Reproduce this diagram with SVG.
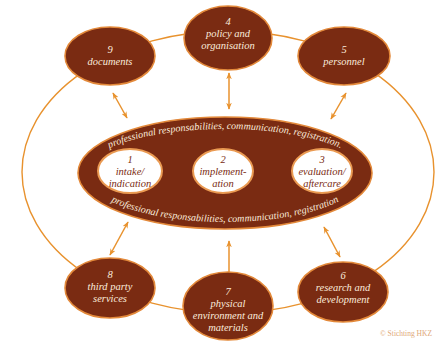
<svg xmlns="http://www.w3.org/2000/svg" width="436" height="343" viewBox="0 0 436 343">
<style>
.node{fill:#7A2B12;stroke:#E3893A;stroke-width:1.6}
.inner{fill:#FFFFFF;stroke:#EA9A52;stroke-width:2}
.lbl{font-family:"Liberation Serif",serif;font-style:italic;font-size:10.5px;fill:#FBEBDD;text-anchor:middle}
.ilbl{font-family:"Liberation Serif",serif;font-style:italic;font-size:10.5px;fill:#7A2B12;text-anchor:middle}
.arc{font-family:"Liberation Serif",serif;font-style:italic;font-size:10px;fill:#FBEBDD}
.conn{fill:none;stroke:#E8922E;stroke-width:1.5}
.ring{fill:none;stroke:#E8922E;stroke-width:1.4}
</style>
<defs>
<marker id="ah" viewBox="0 0 10 10" refX="9" refY="5" markerWidth="7" markerHeight="7" orient="auto-start-reverse" markerUnits="userSpaceOnUse">
<path d="M0,1 L10,5 L0,9 L3,5 Z" fill="#E8922E"/>
</marker>
<path id="topArc" d="M 85 173 A 140 44 0 0 1 365 173"/>
<path id="botArc" d="M 85 173 A 140 49 0 0 0 365 173"/>
</defs>
<rect width="436" height="343" fill="#FFFFFF"/>
<g id="connectors">
<ellipse class="ring" cx="228" cy="172" rx="206" ry="141"/>
<line class="conn" x1="113" y1="93" x2="127" y2="118" marker-start="url(#ah)" marker-end="url(#ah)"/>
<line class="conn" x1="229" y1="73" x2="229" y2="109" marker-start="url(#ah)" marker-end="url(#ah)"/>
<line class="conn" x1="346" y1="93" x2="331" y2="119" marker-start="url(#ah)" marker-end="url(#ah)"/>
<line class="conn" x1="128" y1="222" x2="110" y2="255" marker-start="url(#ah)" marker-end="url(#ah)"/>
<line class="conn" x1="229" y1="241" x2="229" y2="278" marker-start="url(#ah)" marker-end="url(#ah)"/>
<line class="conn" x1="324" y1="227" x2="340" y2="257" marker-start="url(#ah)" marker-end="url(#ah)"/>
</g>
<g id="center">
<ellipse class="node" cx="225" cy="173" rx="147" ry="56"/>
<text class="arc"><textPath href="#topArc" startOffset="50%" text-anchor="middle">professional responsabilities, communication, registration.</textPath></text>
<text class="arc"><textPath href="#botArc" startOffset="50%" text-anchor="middle" dy="0">professional responsabilities, communication, registration</textPath></text>
</g>
<g id="n1">
<ellipse class="inner" cx="130" cy="171" rx="32" ry="22"/>
<text class="ilbl" x="130" y="163">1</text>
<text class="ilbl" x="130" y="175">intake/</text>
<text class="ilbl" x="130" y="187">indication</text>
</g>
<g id="n2">
<ellipse class="inner" cx="223" cy="171" rx="30" ry="22"/>
<text class="ilbl" x="223" y="163">2</text>
<text class="ilbl" x="223" y="175">implement-</text>
<text class="ilbl" x="223" y="187">ation</text>
</g>
<g id="n3">
<ellipse class="inner" cx="322" cy="171" rx="30" ry="22"/>
<text class="ilbl" x="322" y="163">3</text>
<text class="ilbl" x="322" y="175">evaluation/</text>
<text class="ilbl" x="322" y="187">aftercare</text>
</g>
<g id="n4">
<ellipse class="node" cx="228" cy="38" rx="44" ry="32"/>
<text class="lbl" x="228" y="25">4</text>
<text class="lbl" x="228" y="37">policy and</text>
<text class="lbl" x="228" y="49">organisation</text>
</g>
<g id="n5">
<ellipse class="node" cx="344" cy="56" rx="46" ry="29"/>
<text class="lbl" x="344" y="53">5</text>
<text class="lbl" x="344" y="65">personnel</text>
</g>
<g id="n6">
<ellipse class="node" cx="343" cy="292" rx="45" ry="30"/>
<text class="lbl" x="343" y="279">6</text>
<text class="lbl" x="343" y="291">research and</text>
<text class="lbl" x="343" y="303">development</text>
</g>
<g id="n7">
<ellipse class="node" cx="228" cy="306" rx="45" ry="34"/>
<text class="lbl" x="228" y="295">7</text>
<text class="lbl" x="228" y="307">physical</text>
<text class="lbl" x="228" y="319">environment and</text>
<text class="lbl" x="228" y="331">materials</text>
</g>
<g id="n8">
<ellipse class="node" cx="110" cy="288" rx="45" ry="30"/>
<text class="lbl" x="110" y="278">8</text>
<text class="lbl" x="110" y="290">third party</text>
<text class="lbl" x="110" y="302">services</text>
</g>
<g id="n9">
<ellipse class="node" cx="110" cy="56" rx="45" ry="29"/>
<text class="lbl" x="110" y="53">9</text>
<text class="lbl" x="110" y="65">documents</text>
</g>
<text x="432" y="336" font-family="Liberation Serif,serif" font-size="7.5" fill="#E0A878" text-anchor="end">© Stichting HKZ</text>
</svg>
